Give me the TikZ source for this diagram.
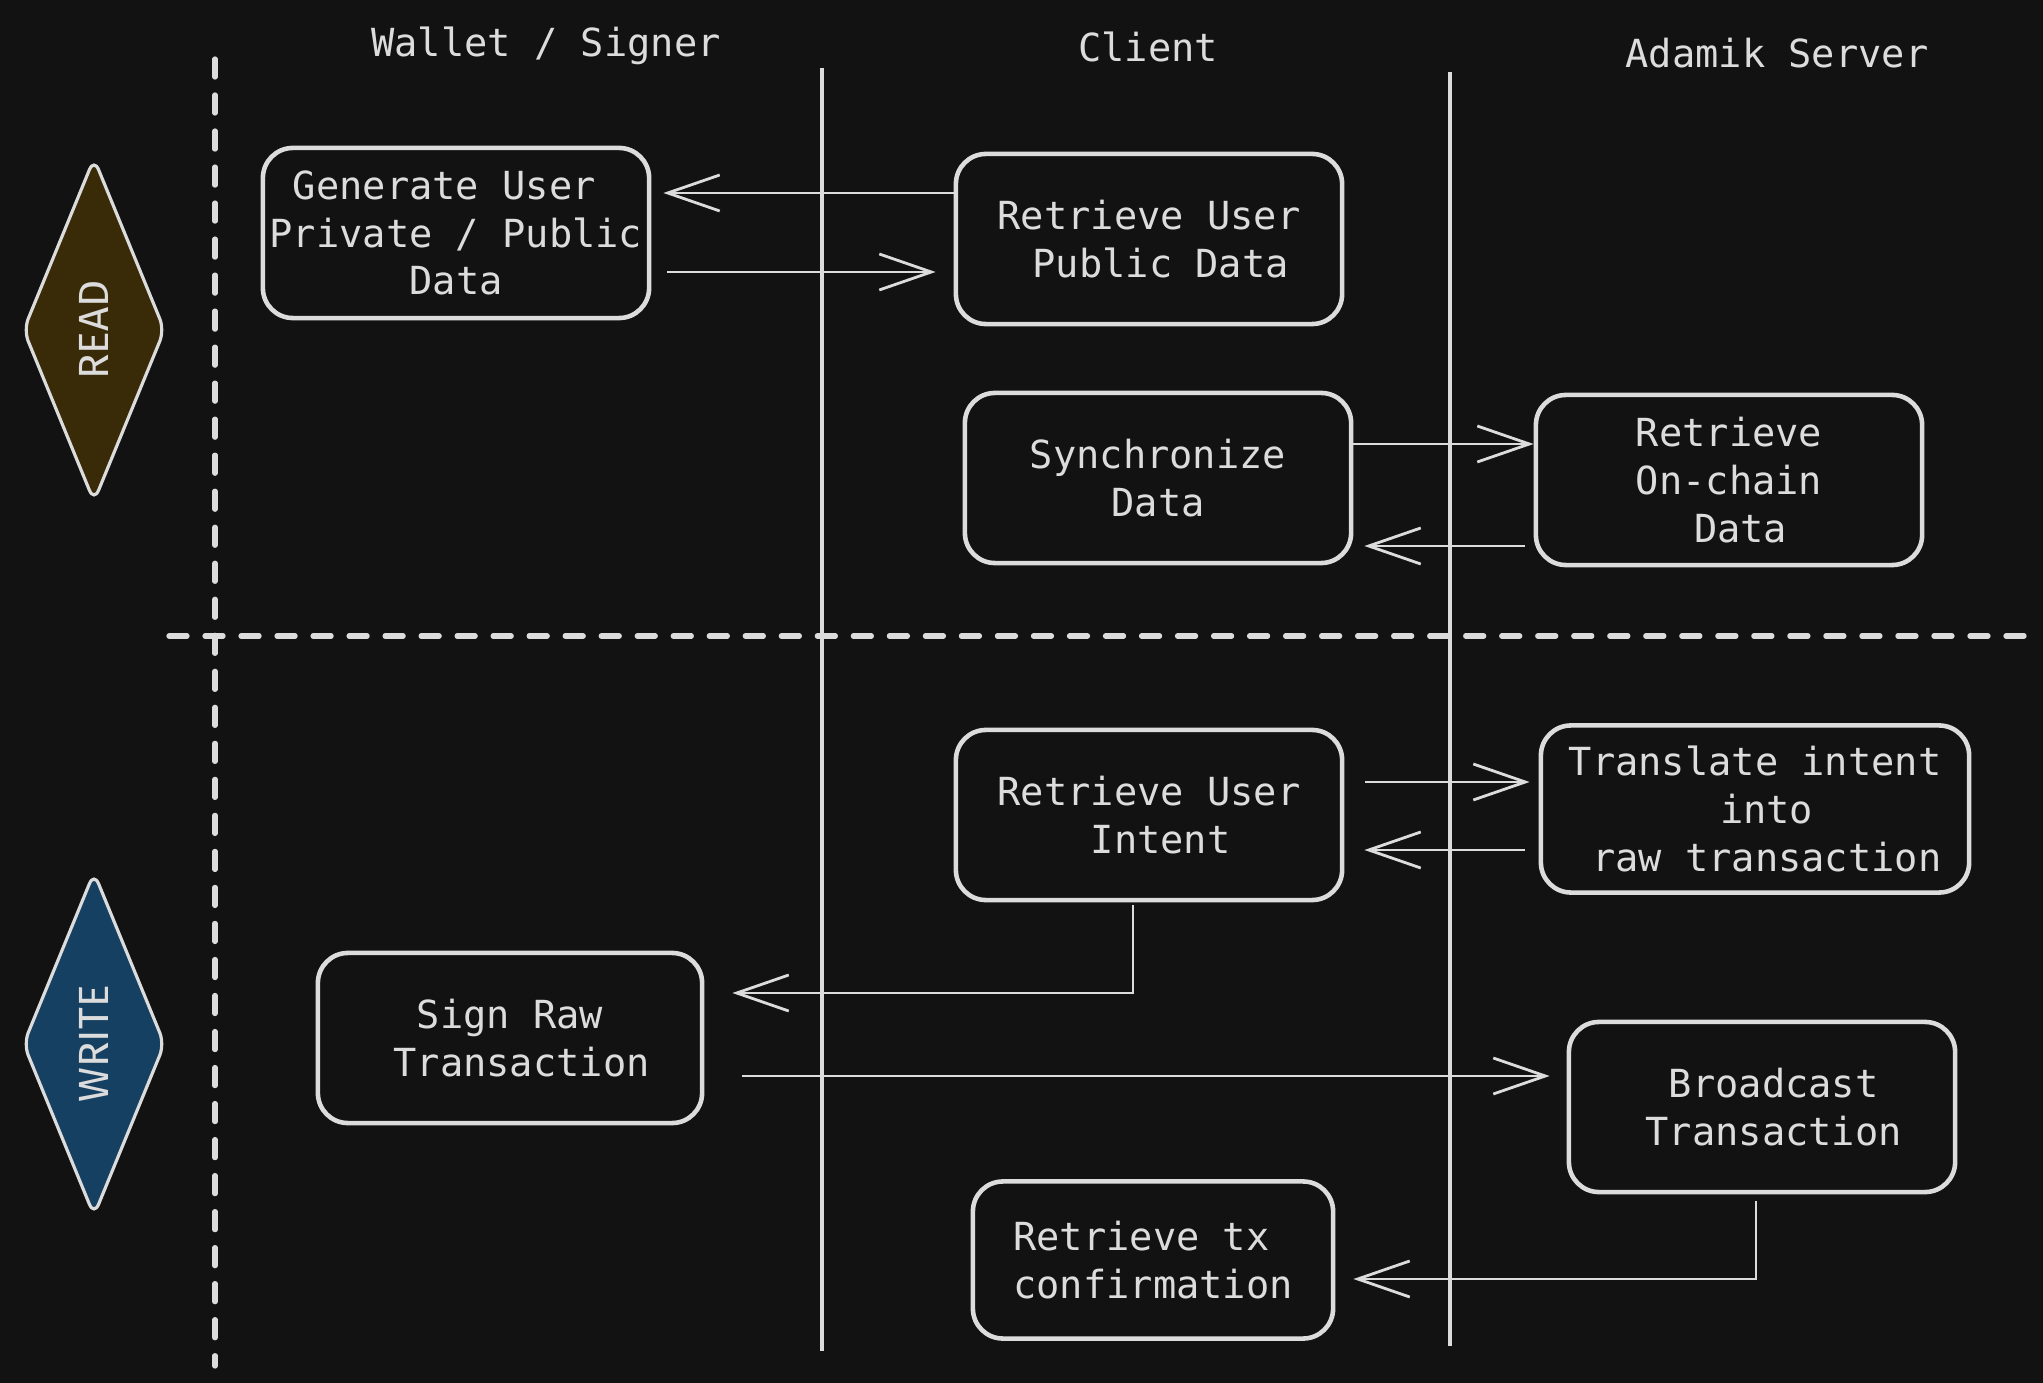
\documentclass[tikz,border=0pt]{standalone}
\usepackage{fontspec}
\setmonofont{DejaVu Sans Mono}
\setsansfont{Fira Sans}
\usepackage{xcolor}
\usetikzlibrary{positioning, shapes.geometric, arrows.meta}
\definecolor{bgcolor}{HTML}{121212}
\definecolor{ink}{HTML}{DCDCDC}
\definecolor{readfill}{HTML}{3A2B08}
\definecolor{writefill}{HTML}{164062}

\begin{document}
\begin{tikzpicture}[x=0.01cm, y=-0.01cm]
	\tikzstyle{task}=[draw=ink, line width=1.3pt, rounded corners=0.3cm, inner xsep=1pt, minimum width=3.86cm, minimum height=1.7cm, align=center, text=ink, font=\ttfamily\fontsize{11}{13.6}\selectfont]
	\tikzstyle{lane}=[text=ink, font=\ttfamily\fontsize{11}{13.6}\selectfont]
	\tikzstyle{phase}=[diamond, draw=ink, line width=0.9pt, inner sep=0pt, minimum width=1.42cm, minimum height=3.44cm, rounded corners=0.12cm]
	\tikzstyle{phasetext}=[rotate=90, text=ink, font=\sffamily\fontsize{12}{14}\selectfont]
	\tikzstyle{flow}=[color=ink, line width=0.8pt, -{Straight Barb[length=0.52cm, width=0.36cm]}]
	\tikzstyle{divider}=[draw=ink, line width=1.5pt, dash pattern=on 0.18cm off 0.18cm, line cap=round]

	% background and frame
	\fill[bgcolor] (0,0) rectangle (2043,1383);
	\useasboundingbox (0,0) rectangle (2043,1383);

	% swimlanes
	\draw[divider] (215,59) -- (215,1366);
	\draw[divider] (169,636) -- (2026,636);
	\draw[ink, line width=1.2pt] (822,68) -- (822,1351);
	\draw[ink, line width=1.2pt] (1450,72) -- (1450,1346);

	\node[lane](wallet) at (546,46) {Wallet / Signer};
	\node[lane](client) at (1148,47) {Client};
	\node[lane](server) at (1777,53) {Adamik Server};

	% phases
	\node[phase, fill=readfill](read) at (94,330) {};
	\node[phasetext] (readtext) at (read) {READ};
	\node[phase, fill=writefill](write) at (94,1044) {};
	\node[phasetext] (writetext) at (write) {WRITE};

	% read steps
	\node[task](genkey) at (456,233) {Generate User\hphantom{x}\\Private / Public\\Data};
	\node[task](pubdata) at (1149,239) {Retrieve User\\~Public Data};
	\node[task](sync) at (1158,478) {Synchronize\\Data};
	\node[task](chain) at (1729,480) {Retrieve\\On-chain\\~Data};

	% write steps
	\node[task](intent) at (1149,815) {Retrieve User\\~Intent};
	\node[task, minimum width=4.28cm, minimum height=1.67cm](translate) at (1755,809) {Translate intent\\~into\\~raw transaction};
	\node[task, minimum width=3.84cm](sign) at (510,1038) {Sign Raw\\~Transaction};
	\node[task](bcast) at (1762,1107) {~Broadcast\\~Transaction};
	\node[task, minimum width=3.6cm, minimum height=1.57cm](confirm) at (1153,1260) {Retrieve tx\hphantom{x}\\confirmation};

	\path[flow]
		(pubdata.west |- 0,193) edge[shorten >=0.12cm] (genkey.east |- 0,193)
		(genkey.east |- 0,272) edge[shorten <=0.16cm, shorten >=0.18cm] (pubdata.west |- 0,272)

		(sync.east |- 0,444) edge (chain.west |- 0,444)
		(chain.west |- 0,546) edge[shorten <=0.09cm, shorten >=0.11cm] (sync.east |- 0,546)

		(intent.east |- 0,782) edge[shorten <=0.21cm, shorten >=0.09cm] (translate.west |- 0,782)
		(translate.west |- 0,850) edge[shorten <=0.14cm, shorten >=0.2cm] (intent.east |- 0,850)

		(sign.east |- 0,1076) edge[shorten <=0.38cm, shorten >=0.17cm] (bcast.west |- 0,1076);

	\draw[flow, shorten <=0.03cm, shorten >=0.28cm] (intent.south -| 1133,0) |- (sign.east |- 0,993);
	\draw[flow, shorten <=0.07cm, shorten >=0.18cm] (bcast.south -| 1756,0) |- (confirm.east |- 0,1279);
\end{tikzpicture}
\end{document}
